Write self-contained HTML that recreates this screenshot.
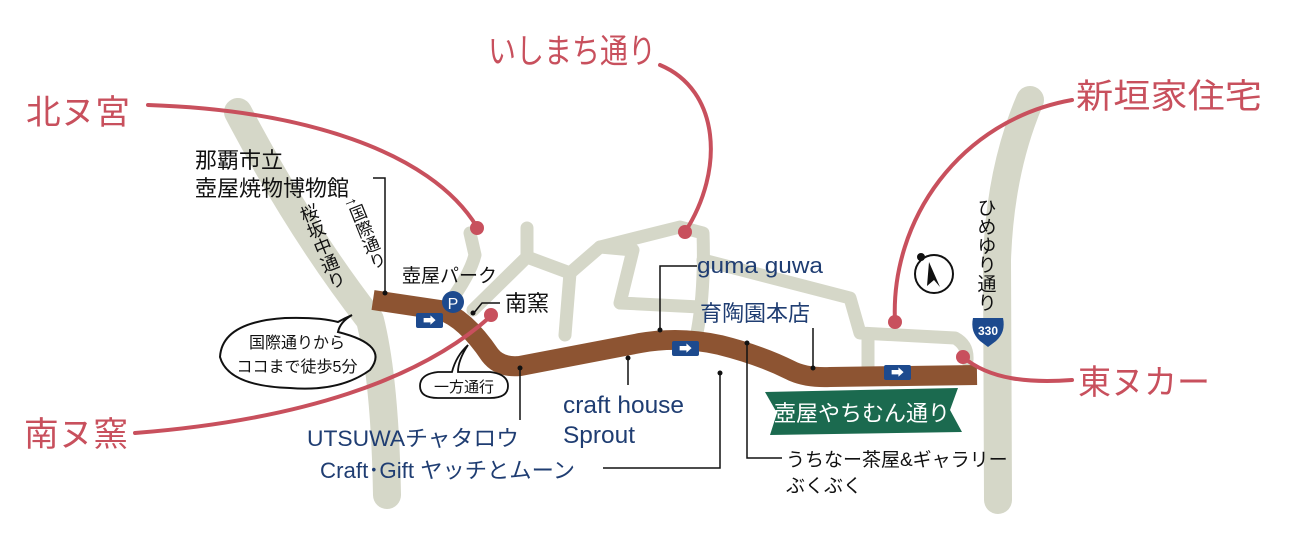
<!DOCTYPE html>
<html><head><meta charset="utf-8"><style>
html,body{margin:0;padding:0;background:#fff;}
svg{display:block;}
text{font-family:"Liberation Sans","Noto Sans CJK JP",sans-serif;}
</style></head><body>
<svg width="1295" height="555" viewBox="0 0 1295 555" xmlns="http://www.w3.org/2000/svg">
<g fill="none" stroke="#d5d7c8" stroke-linecap="round" stroke-linejoin="round">
<path d="M238,112 Q300,230 370,320 Q385,380 387,495" stroke-width="28"/>
<path d="M1030,100 Q1000,170 997,260 L998,500" stroke-width="28"/>
<g stroke-width="13">
<path d="M447,306 Q470,275 475,255 L470,233"/>
<path d="M473,310 L527,257 L527,228"/>
<path d="M527,257 L570,273 L600,247 L680,227 L703,233 Q705,290 697,333"/>
<path d="M570,273 L565,335"/>
<path d="M600,247 L633,250 L620,303 L700,307"/>
<path d="M703,260 L850,298 L860,333 L955,338 Q968,345 967,360"/>
<path d="M868,340 L868,370"/>
</g>
</g>
<path d="M373,300 L440,310 Q465,318 490,355 Q500,368 520,366 L640,343 Q680,336 720,345 Q760,355 790,370 Q805,378 830,377 L977,375" fill="none" stroke="#8d5432" stroke-width="20" stroke-linejoin="round"/>
<g>
<rect x="416" y="313" width="27" height="15" fill="#1d4a8e" rx="2"/><text x="429.5" y="325" fill="#fff" font-size="13" text-anchor="middle">➡</text>
<rect x="672" y="341" width="27" height="15" fill="#1d4a8e" rx="2"/><text x="685.5" y="353" fill="#fff" font-size="13" text-anchor="middle">➡</text>
<rect x="884" y="365" width="27" height="15" fill="#1d4a8e" rx="2"/><text x="897.5" y="377" fill="#fff" font-size="13" text-anchor="middle">➡</text>
</g>
<g fill="none" stroke="#c8505d" stroke-width="4" stroke-linecap="round">
<path d="M148,105 C300,110 430,150 477,227"/>
<path d="M660,65 C720,90 725,170 685,232"/>
<path d="M1072,100 C960,120 890,220 895,322"/>
<path d="M963,357 C990,380 1030,383 1072,380"/>
<path d="M135,433 C300,420 420,380 491,316"/>
</g>
<g fill="#c8505d">
<circle cx="477" cy="228" r="7"/><circle cx="685" cy="232" r="7"/><circle cx="895" cy="322" r="7"/><circle cx="963" cy="357" r="7"/><circle cx="491" cy="315" r="7"/>
</g>
<g fill="#c8505d" font-size="34">
<text x="26" y="124" textLength="104" lengthAdjust="spacingAndGlyphs">北ヌ宮</text>
<text x="488" y="63" textLength="168" lengthAdjust="spacingAndGlyphs">いしまち通り</text>
<text x="1076" y="108" textLength="186" lengthAdjust="spacingAndGlyphs">新垣家住宅</text>
<text x="1078" y="394" textLength="132" lengthAdjust="spacingAndGlyphs">東ヌカー</text>
<text x="24" y="446" textLength="104" lengthAdjust="spacingAndGlyphs">南ヌ窯</text>
</g>
<g fill="none" stroke="#111" stroke-width="1.5">
<path d="M373,178 L385,178 L385,293"/>
<path d="M473,314 L482,303 L500,303"/>
<path d="M697,266 L660,266 L660,330"/>
<path d="M813,328 L813,368"/>
<path d="M628,358 L628,385"/>
<path d="M520,368 L520,420"/>
<path d="M603,468 L720,468 L720,373"/>
<path d="M747,343 L747,458 L782,458"/>
</g>
<g fill="#111">
<circle cx="385" cy="293" r="2.5"/><circle cx="473" cy="313" r="2.5"/><circle cx="660" cy="330" r="2.5"/><circle cx="813" cy="368" r="2.5"/><circle cx="628" cy="358" r="2.5"/><circle cx="520" cy="368" r="2.5"/><circle cx="720" cy="373" r="2.5"/><circle cx="747" cy="343" r="2.5"/>
</g>
<g fill="#111">
<text x="195" y="168" font-size="22">那覇市立</text>
<text x="195" y="196" font-size="22">壺屋焼物博物館</text>
<text x="402" y="282" font-size="19">壺屋パーク</text>
<text x="505" y="311" font-size="22">南窯</text>
<text x="786" y="466" font-size="19">うちなー茶屋&amp;ギャラリー</text>
<text x="786" y="492" font-size="19">ぶくぶく</text>
</g>
<g transform="translate(305,205) rotate(-22)" font-size="18" fill="#111">
<text x="0" y="0" style="writing-mode:tb">桜坂中通り</text>
</g>
<g transform="translate(350,198) rotate(-22)" font-size="17" fill="#111">
<text x="0" y="0" style="writing-mode:tb">↑国際通り</text>
</g>
<text x="985" y="198" font-size="19" fill="#111" style="writing-mode:tb">ひめゆり通り</text>
<circle cx="453" cy="302" r="11" fill="#1d4a8e"/><text x="453" y="309" font-size="16" fill="#fff" text-anchor="middle">P</text>
<path d="M352,315 Q340,322 338,332 Q390,345 370,370 Q340,392 290,388 Q228,386 220,357 Q222,322 285,318 Q320,317 338,322 Q345,318 352,315Z" fill="#fff" stroke="#111" stroke-width="2"/>
<text x="297" y="348" font-size="16" fill="#111" text-anchor="middle">国際通りから</text>
<text x="297" y="372" font-size="16" fill="#111" text-anchor="middle">ココまで徒歩5分</text>
<path d="M468,345 Q458,360 458,372 L490,372 Q508,374 508,386 Q508,398 490,398 L438,398 Q420,398 420,386 Q420,374 438,372 L452,372 Q456,356 468,345Z" fill="#fff" stroke="#111" stroke-width="1.8"/>
<text x="464" y="392" font-size="15" fill="#111" text-anchor="middle">一方通行</text>
<g fill="#1f3d72">
<text x="697" y="273" font-size="22" textLength="126" lengthAdjust="spacingAndGlyphs">guma guwa</text>
<text x="700" y="321" font-size="22">育陶園本店</text>
<text x="563" y="413" font-size="24" textLength="121" lengthAdjust="spacingAndGlyphs">craft house</text>
<text x="563" y="443" font-size="24" textLength="72" lengthAdjust="spacingAndGlyphs">Sprout</text>
<text x="307" y="446" font-size="22" textLength="212" lengthAdjust="spacingAndGlyphs">UTSUWAチャタロウ</text>
<text x="320" y="478" font-size="22" textLength="255" lengthAdjust="spacingAndGlyphs">Craft･Gift ヤッチとムーン</text>
</g>
<path d="M765,392 L958,388 L950,410 L962,432 L770,435 L777,413Z" fill="#1b6a4f"/>
<text x="862" y="421" font-size="22" fill="#fff" text-anchor="middle">壺屋やちむん通り</text>
<circle cx="934" cy="274" r="19" fill="#fff" stroke="#111" stroke-width="2"/>
<path d="M929,262 L940,287 L934,280 L927,286Z" fill="#111"/>
<circle cx="921" cy="257" r="4" fill="#111"/>
<path d="M973,318 L1003,318 Q1006,332 996,341 L988,347 L980,341 Q970,332 973,318Z" fill="#1d4a8e"/>
<text x="988" y="335" font-size="12" fill="#fff" text-anchor="middle" font-weight="bold">330</text>
</svg>
</body></html>
